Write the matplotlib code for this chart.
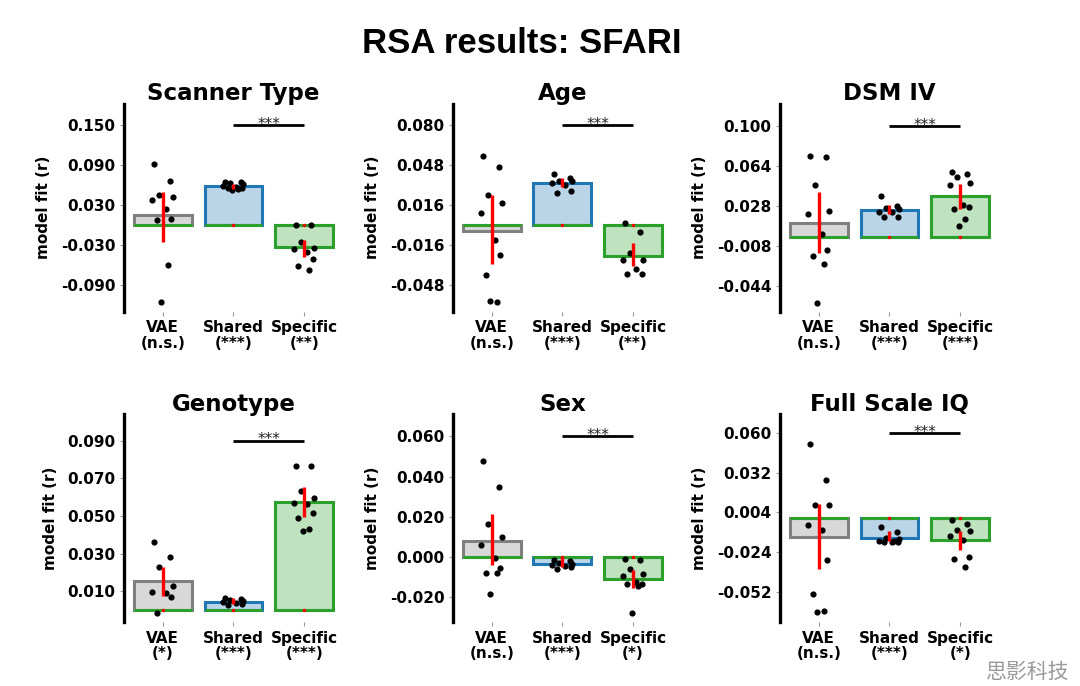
import matplotlib.pyplot as plt
import numpy as np

plt.rcParams['font.family'] = ['DejaVu Sans']

# ---- data ----
conditions = ['VAE', 'Shared', 'Specific']

titles = ['Scanner Type', 'Age', 'DSM IV', 'Genotype', 'Sex', 'Full Scale IQ']

stars = [
    ['(n.s.)', '(***)', '(**)'],
    ['(n.s.)', '(***)', '(**)'],
    ['(n.s.)', '(***)', '(***)'],
    ['(*)', '(***)', '(***)'],
    ['(n.s.)', '(***)', '(*)'],
    ['(n.s.)', '(***)', '(*)'],
]

# per-panel points for each condition
scanner_vae = [0.0915, 0.066, 0.045, 0.042, 0.0375, 0.0235, 0.009, 0.008, -0.061, -0.1165]
scanner_shared = [0.064, 0.064, 0.063, 0.061, 0.059, 0.057, 0.056, 0.055, 0.054, 0.053]
scanner_specific = [0.0, 0.0, -0.025, -0.034, -0.036, -0.04, -0.051, -0.0615, -0.0685]

age_vae = [0.0555, 0.0467, 0.024, 0.0173, 0.0093, -0.012, -0.024, -0.0403, -0.0619, -0.0608]
age_shared = [0.0408, 0.038, 0.0355, 0.035, 0.034, 0.032, 0.0275, 0.0253]
age_specific = [0.002, -0.0053, -0.022, -0.028, -0.028, -0.0355, -0.039, -0.039]

dsm_vae = [0.0735, 0.0723, 0.0469, 0.0237, 0.0207, 0.0033, -0.0111, -0.0171, -0.0243, -0.0591]
dsm_shared = [0.0372, 0.028, 0.0267, 0.025, 0.0228, 0.0228, 0.0183, 0.0183]
dsm_specific = [0.0591, 0.0567, 0.0543, 0.0492, 0.0468, 0.0288, 0.027, 0.0258, 0.0168, 0.0102]

geno_vae = [0.0365, 0.0285, 0.0228, 0.013, 0.0095, 0.009, 0.0069, -0.0016]
geno_shared = [0.0065, 0.006, 0.0055, 0.005, 0.0045, 0.004, 0.0035, 0.003]
geno_specific = [0.0768, 0.0766, 0.0634, 0.0595, 0.0568, 0.0565, 0.0515, 0.0488, 0.043, 0.0423]

sex_vae = [0.0475, 0.0347, 0.0164, 0.0098, 0.006, -0.0007, -0.0053, -0.0078, -0.0078, -0.0186]
sex_shared = [-0.0015, -0.002, -0.003, -0.0035, -0.004, -0.0045, -0.005, -0.006]
sex_specific = [-0.001, -0.0015, -0.006, -0.0086, -0.0093, -0.0123, -0.0134, -0.0134, -0.0143, -0.0279]

iq_vae = [0.0522, 0.0265, 0.009, 0.009, -0.0047, -0.0087, -0.0295, -0.0535, -0.0653, -0.0665]
iq_shared = [-0.0064, -0.0099, -0.0141, -0.015, -0.0165, -0.0172, -0.0172, -0.0172, -0.0165]
iq_specific = [-0.0012, -0.004, -0.0087, -0.0094, -0.013, -0.0153, -0.0278, -0.029, -0.0349]

points = [
    [scanner_vae, scanner_shared, scanner_specific],
    [age_vae, age_shared, age_specific],
    [dsm_vae, dsm_shared, dsm_specific],
    [geno_vae, geno_shared, geno_specific],
    [sex_vae, sex_shared, sex_specific],
    [iq_vae, iq_shared, iq_specific],
]

bar_means = [
    [0.015, 0.0585, -0.0335],
    [-0.005, 0.0333, -0.0245],
    [0.0129, 0.0249, 0.0375],
    [0.0157, 0.0046, 0.0577],
    [0.008, -0.0037, -0.011],
    [-0.0137, -0.0141, -0.0153],
]

ci_low = [
    [-0.026, 0.054, -0.0475],
    [-0.0315, 0.0301, -0.0328],
    [-0.0141, 0.0207, 0.0258],
    [0.0073, 0.0034, 0.0497],
    [-0.004, -0.005, -0.0156],
    [-0.0361, -0.016, -0.0224],
]
ci_high = [
    [0.05, 0.061, -0.0225],
    [0.024, 0.0373, -0.0147],
    [0.0403, 0.0288, 0.0483],
    [0.0227, 0.0064, 0.0657],
    [0.0213, 0.0, -0.0065],
    [0.0101, -0.0094, -0.0094],
]

yticks = [
    [0.150, 0.090, 0.030, -0.030, -0.090],
    [0.080, 0.048, 0.016, -0.016, -0.048],
    [0.100, 0.064, 0.028, -0.008, -0.044],
    [0.090, 0.070, 0.050, 0.030, 0.010],
    [0.060, 0.040, 0.020, 0.000, -0.020],
    [0.060, 0.032, 0.004, -0.024, -0.052],
]

ylims = [
    (-0.1305, 0.1825),
    (-0.0693, 0.0973),
    (-0.0671, 0.1204),
    (-0.0064, 0.1042),
    (-0.0325, 0.0711),
    (-0.0736, 0.0734),
]

# ---- styling ----
edge_colors = ['#808080', '#1f77b4', '#2ca02c']
jitter = np.array([-0.12, 0.1, -0.05, 0.14, -0.15, 0.04, 0.12, -0.08, 0.07, -0.02])

fig = plt.figure(figsize=(10.8, 6.86), dpi=100)

col_left = [0.1148, 0.4194, 0.7222]
row_bottom = [0.5456, 0.0929]
ax_w, ax_h = 0.2028, 0.3035

x = np.arange(len(conditions))

for i in range(6):
    r, c = divmod(i, 3)
    ax = fig.add_axes([col_left[c], row_bottom[r], ax_w, ax_h])

    # bars (light fill + full colour edge)
    for j in range(3):
        ax.bar(x[j], bar_means[i][j], width=0.82, color=edge_colors[j], alpha=0.3,
               edgecolor='none', zorder=1)
        ax.bar(x[j], bar_means[i][j], width=0.82, facecolor='none',
               edgecolor=edge_colors[j], linewidth=2.2, zorder=2)
        # zero-height overlay bar (green line at 0)
        ax.hlines(0, x[j] - 0.41, x[j] + 0.41, color='#2ca02c', linewidth=2.2, zorder=3)

    # individual points
    for j in range(3):
        vals = np.array(points[i][j])
        xs = x[j] + jitter[:len(vals)]
        ax.scatter(xs, vals, s=20, color='black', zorder=4, linewidths=0)

    # confidence intervals
    for j in range(3):
        ax.vlines(x[j], ci_low[i][j], ci_high[i][j], color='red', linewidth=2.4, zorder=5)
        ax.plot(x[j], 0, marker='o', markersize=2.5, color='red', markeredgewidth=0, zorder=5)

    # significance bar Shared vs Specific
    sig_y = yticks[i][0]
    ax.plot([x[1], x[2]], [sig_y, sig_y], color='black', linewidth=2, solid_capstyle='butt', zorder=3)
    ax.annotate('***', xy=(1.5, sig_y), xytext=(0, -2.5), textcoords='offset points',
                ha='center', va='baseline', fontsize=11, color='#222222')

    ax.set_xlim(-0.55, 2.55)
    ax.set_ylim(*ylims[i])
    ax.set_yticks(yticks[i])
    ax.set_yticklabels([f'{t:.3f}' for t in yticks[i]], fontweight='bold', fontsize=11)
    ax.set_xticks(x)
    ax.set_xticklabels([f'{n}\n{s}' for n, s in zip(conditions, stars[i])],
                       fontweight='bold', fontsize=11, linespacing=1.05)
    ax.tick_params(axis='x', length=3, width=0.8, color='#999999', pad=3)
    ax.tick_params(axis='y', length=3, width=0.8, color='#999999', pad=3)

    for side in ['top', 'right', 'bottom']:
        ax.spines[side].set_visible(False)
    ax.spines['left'].set_linewidth(2.4)
    ax.spines['left'].set_color('black')

    ax.set_ylabel('model fit (r)', fontweight='bold', fontsize=11, labelpad=7)
    ax.text(0.5, 1.015, titles[i], transform=ax.transAxes, ha='center', va='baseline',
            fontsize=16.5, fontweight='bold')

fig.text(0.483, 0.923, 'RSA results: SFARI', ha='center', va='baseline',
         fontsize=25, fontweight='bold', family='Liberation Sans')

# watermark bottom right (kept clear of the tick labels)
fig.text(0.99, 0.012, '思影科技', ha='right', va='baseline', fontsize=15,
         family=['Noto Sans CJK SC', 'DejaVu Sans'], color='#555555', alpha=0.6)

fig.savefig('out.png', dpi=100)
